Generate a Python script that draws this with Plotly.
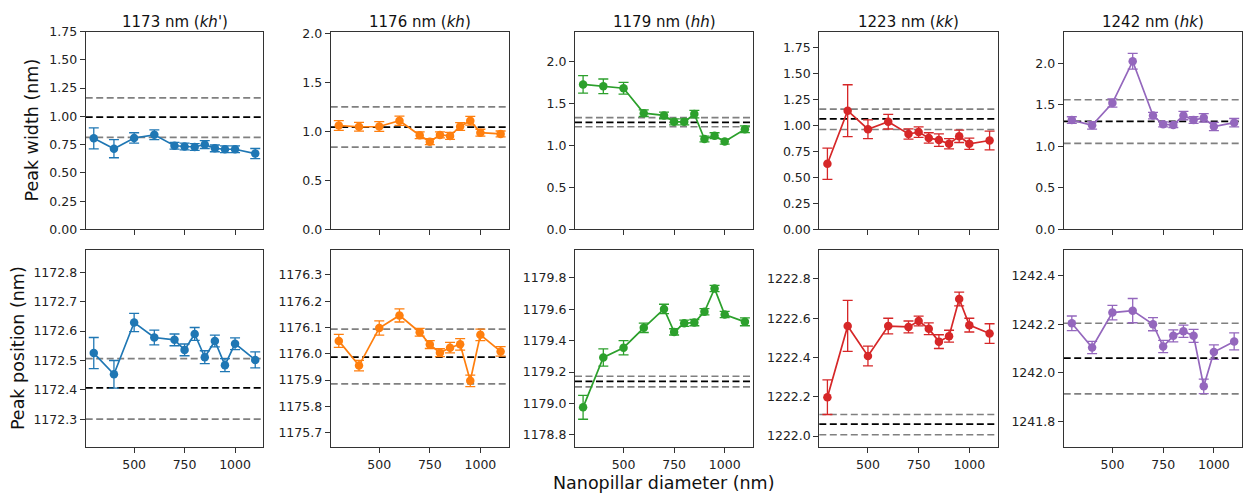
import plotly.graph_objects as go

# ---------------- data ----------------
diameters = [300, 400, 500, 600, 700, 750, 800, 850, 900, 950, 1000, 1100]

titles = ["1173 nm (<i>kh</i>')", "1176 nm (<i>kh</i>)", "1179 nm (<i>hh</i>)",
          "1223 nm (<i>kk</i>)", "1242 nm (<i>hk</i>)"]
colors = ["#1f77b4", "#ff7f0e", "#2ca02c", "#d62728", "#9467bd"]

# Peak widths (nm) and errors
width_1173 = [0.806, 0.714, 0.809, 0.837, 0.740, 0.734, 0.729, 0.751, 0.717, 0.709, 0.709, 0.671]
width_err_1173 = [0.093, 0.080, 0.046, 0.043, 0.030, 0.030, 0.030, 0.035, 0.030, 0.030, 0.030, 0.045]
width_1176 = [1.061, 1.048, 1.051, 1.110, 0.962, 0.896, 0.965, 0.955, 1.051, 1.110, 0.988, 0.975]
width_err_1176 = [0.050, 0.045, 0.050, 0.047, 0.035, 0.030, 0.030, 0.035, 0.040, 0.045, 0.035, 0.030]
width_1179 = [1.730, 1.707, 1.684, 1.387, 1.360, 1.283, 1.283, 1.376, 1.079, 1.118, 1.048, 1.195]
width_err_1179 = [0.105, 0.087, 0.070, 0.040, 0.040, 0.035, 0.035, 0.045, 0.035, 0.035, 0.030, 0.040]
width_1223 = [0.632, 1.143, 0.965, 1.037, 0.919, 0.937, 0.881, 0.860, 0.825, 0.897, 0.825, 0.856]
width_err_1223 = [0.150, 0.250, 0.090, 0.070, 0.050, 0.050, 0.050, 0.060, 0.050, 0.060, 0.055, 0.090]
width_1242 = [1.318, 1.255, 1.524, 2.027, 1.372, 1.267, 1.259, 1.372, 1.318, 1.345, 1.240, 1.287]
width_err_1242 = [0.040, 0.045, 0.050, 0.095, 0.040, 0.030, 0.030, 0.050, 0.040, 0.050, 0.050, 0.050]

# Peak positions (nm) and errors
pos_1173 = [1172.525, 1172.453, 1172.629, 1172.578, 1172.570, 1172.536, 1172.590, 1172.511, 1172.566, 1172.484, 1172.557, 1172.502]
pos_err_1173 = [0.053, 0.047, 0.031, 0.025, 0.020, 0.020, 0.022, 0.022, 0.020, 0.022, 0.020, 0.027]
pos_1176 = [1176.049, 1175.955, 1176.098, 1176.146, 1176.082, 1176.035, 1176.004, 1176.023, 1176.036, 1175.897, 1176.072, 1176.009]
pos_err_1176 = [0.025, 0.020, 0.027, 0.025, 0.015, 0.015, 0.015, 0.020, 0.022, 0.022, 0.022, 0.018]
pos_1179 = [1178.975, 1179.293, 1179.355, 1179.482, 1179.602, 1179.456, 1179.511, 1179.515, 1179.584, 1179.732, 1179.567, 1179.520]
pos_err_1179 = [0.076, 0.055, 0.045, 0.030, 0.030, 0.020, 0.020, 0.020, 0.020, 0.020, 0.020, 0.025]
pos_1223 = [1222.198, 1222.561, 1222.408, 1222.560, 1222.556, 1222.586, 1222.547, 1222.481, 1222.509, 1222.698, 1222.565, 1222.522]
pos_err_1223 = [0.088, 0.130, 0.050, 0.040, 0.030, 0.025, 0.030, 0.035, 0.030, 0.035, 0.035, 0.050]
pos_1242 = [1242.204, 1242.104, 1242.248, 1242.256, 1242.200, 1242.108, 1242.152, 1242.171, 1242.152, 1241.944, 1242.085, 1242.129]
pos_err_1242 = [0.030, 0.025, 0.030, 0.050, 0.027, 0.025, 0.025, 0.025, 0.027, 0.030, 0.030, 0.035]

# Reference (bulk) lines: mean, lower, upper
width_ref = [[0.994, 0.814, 1.163], [1.044, 0.840, 1.252], [1.276, 1.225, 1.333],
             [1.065, 0.962, 1.159], [1.302, 1.037, 1.563]]
pos_ref = [[1172.407, 1172.301, 1172.506], [1175.987, 1175.885, 1176.094],
           [1179.140, 1179.105, 1179.173], [1222.061, 1222.007, 1222.110],
           [1242.060, 1241.913, 1242.204]]

widths = [width_1173, width_1176, width_1179, width_1223, width_1242]
width_errs = [width_err_1173, width_err_1176, width_err_1179, width_err_1223, width_err_1242]
positions = [pos_1173, pos_1176, pos_1179, pos_1223, pos_1242]
pos_errs = [pos_err_1173, pos_err_1176, pos_err_1179, pos_err_1223, pos_err_1242]

# ---------------- layout helpers ----------------
W, H = 1248, 499
col_px = [(85.7, 263.3), (330.7, 508.7), (575.0, 753.0), (819.3, 997.7), (1063.7, 1242.3)]
row_px = [(24.3, 228.3), (249.0, 452.3)]

width_ranges = [(0, 1.75), (0, 2.02), (0, 2.36), (0, 1.905), (0, 2.385)]
width_fmt = [(".2f", 0.25), (".1f", 0.5), (".1f", 0.5), (".2f", 0.25), (".1f", 0.5)]
pos_ranges = [(1172.207, 1172.877), (1175.646, 1176.397), (1178.724, 1179.981),
              (1221.946, 1222.950), (1241.695, 1242.508)]
pos_fmt = [(".1f", 0.1), (".1f", 0.1), (".1f", 0.2), (".1f", 0.2), (".1f", 0.2)]

FONT = "DejaVu Sans"
fig = go.Figure()
shapes = []
annotations = []

def axis_common():
    return dict(showline=True, mirror=True, linecolor="#333", linewidth=1.1,
                ticks="outside", ticklen=5, tickwidth=1.1, tickcolor="#333",
                showgrid=False, zeroline=False,
                tickfont=dict(family=FONT, size=12.5, color="#222"))

for r in range(2):
    for c in range(5):
        idx = r * 5 + c + 1
        xa = "x" if idx == 1 else f"x{idx}"
        ya = "y" if idx == 1 else f"y{idx}"
        if r == 0:
            yvals, yerr, refs = widths[c], width_errs[c], width_ref[c]
            yr, (fmt, dt) = width_ranges[c], width_fmt[c]
        else:
            yvals, yerr, refs = positions[c], pos_errs[c], pos_ref[c]
            yr, (fmt, dt) = pos_ranges[c], pos_fmt[c]
        fig.add_trace(go.Scatter(
            x=diameters, y=yvals, xaxis=xa, yaxis=ya, mode="lines+markers",
            line=dict(color=colors[c], width=1.7),
            marker=dict(color=colors[c], size=8.5),
            error_y=dict(type="data", array=yerr, visible=True, color=colors[c],
                         thickness=1.3, width=5),
            showlegend=False))
        x0, x1 = col_px[c]
        y0, y1 = row_px[r]
        xd = [x0 / W, x1 / W]
        yd = [1 - y1 / H, 1 - y0 / H]
        xkey = "xaxis" if idx == 1 else f"xaxis{idx}"
        ykey = "yaxis" if idx == 1 else f"yaxis{idx}"
        xax = axis_common()
        xax.update(domain=xd, anchor=ya, range=[260, 1140],
                   tickvals=[500, 750, 1000], showticklabels=(r == 1),
                   ticklabelstandoff=1)
        yax = axis_common()
        yax.update(domain=yd, anchor=xa, range=list(yr), dtick=dt,
                   tickformat=fmt, tick0=0)
        fig.update_layout({xkey: xax, ykey: yax})
        for k, val in enumerate(refs):
            shapes.append(dict(type="line", xref=f"{xa} domain", yref=ya,
                               x0=0, x1=1, y0=val, y1=val, layer="below",
                               line=dict(color="black" if k == 0 else "#808080",
                                         width=1.7, dash="7px,3.5px")))
        if r == 0:
            annotations.append(dict(text=titles[c], x=(x0 + x1) / 2 / W, y=1 - 14 / H,
                                    xref="paper", yref="paper", showarrow=False,
                                    xanchor="center", yanchor="middle",
                                    font=dict(family=FONT, size=15, color="#111")))

annotations.append(dict(text="Peak width (nm)", x=32 / W, y=1 - 126.3 / H, xref="paper",
                        yref="paper", showarrow=False, textangle=-90,
                        xanchor="center", yanchor="middle",
                        font=dict(family=FONT, size=17.5, color="#111")))
annotations.append(dict(text="Peak position (nm)", x=18 / W, y=1 - 350.6 / H, xref="paper",
                        yref="paper", showarrow=False, textangle=-90,
                        xanchor="center", yanchor="middle",
                        font=dict(family=FONT, size=17.5, color="#111")))
annotations.append(dict(text="Nanopillar diameter (nm)", x=663 / W, y=1 - 490 / H,
                        xref="paper", yref="paper", showarrow=False,
                        xanchor="center", yanchor="middle",
                        font=dict(family=FONT, size=17.5, color="#111")))

fig.update_layout(width=W, height=H, margin=dict(l=0, r=0, t=0, b=0),
                  paper_bgcolor="white", plot_bgcolor="white",
                  shapes=shapes, annotations=annotations)

fig.write_html("out.html", config={"displayModeBar": False},
               post_script="document.body.style.margin='0';document.body.style.overflow='hidden';")
